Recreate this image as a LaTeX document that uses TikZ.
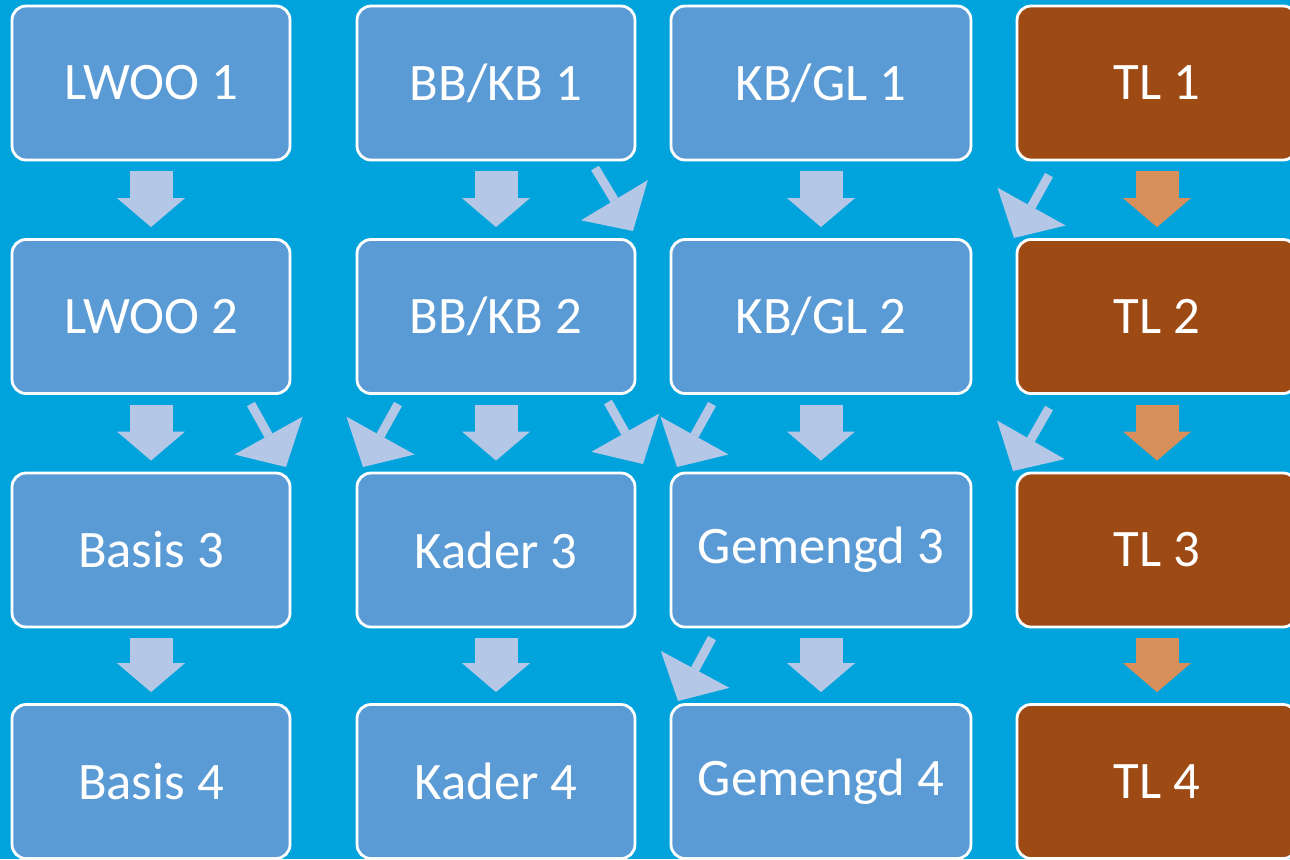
\documentclass[tikz,border=0pt]{standalone}
\usepackage{fontspec}
\setmainfont{Carlito}
\usetikzlibrary{arrows.meta}
\definecolor{bgblue}{HTML}{00A3DB}
\definecolor{boxblue}{HTML}{5B9BD5}
\definecolor{boxbrown}{HTML}{9E4A14}
\definecolor{arrowblue}{HTML}{B4C7E7}
\definecolor{arroworange}{HTML}{D98F5A}
\tikzset{
    level/.style={
        draw=white,
        line width=0.8pt,
        rounded corners=0.14cm,
        fill=boxblue,
        text=white,
        font=\fontsize{15}{18}\selectfont,
        minimum width=2.78cm,
        minimum height=1.54cm},
    widelevel/.style={level, minimum width=3.0cm},
    tllevel/.style={level, fill=boxbrown, minimum width=2.8cm},
    down/.style={
        draw=arrowblue,
        line width=0.43cm,
        -{Triangle[width=0.68cm,length=0.29cm,line width=0pt]},
        shorten <=0.1cm,
        shorten >=0.11cm},
    downtl/.style={down, draw=arroworange},
    diag/.style={
        draw=arrowblue,
        line width=0.09cm,
        -{Triangle[width=0.78cm,length=0.36cm,line width=0pt]}}}

\begin{document}
\begin{tikzpicture}
        \useasboundingbox (0,0) rectangle (12.9,-8.59);
        \fill[bgblue] (0,0) rectangle (12.9,-8.59);

        % column LWOO / Basis
        \node[level] (lwoo1) at (1.51,-0.83) {LWOO 1};
        \node[level] (lwoo2) at (1.51,-3.165) {LWOO 2};
        \node[level] (basis3) at (1.51,-5.50) {Basis 3};
        \node[level] (basis4) at (1.51,-7.815) {Basis 4};

        % column BB/KB / Kader
        \node[level] (bbkb1) at (4.96,-0.83) {BB/KB 1};
        \node[level] (bbkb2) at (4.96,-3.165) {BB/KB 2};
        \node[level] (kader3) at (4.96,-5.50) {Kader 3};
        \node[level] (kader4) at (4.96,-7.815) {Kader 4};

        % column KB/GL / Gemengd
        \node[widelevel] (kbgl1) at (8.21,-0.83) {KB/GL 1};
        \node[widelevel] (kbgl2) at (8.21,-3.165) {KB/GL 2};
        \node[widelevel] (gemengd3) at (8.21,-5.50) {Gemengd 3};
        \node[widelevel] (gemengd4) at (8.21,-7.815) {Gemengd 4};

        % column TL
        \node[tllevel] (tl1) at (11.57,-0.83) {TL 1};
        \node[tllevel] (tl2) at (11.57,-3.165) {TL 2};
        \node[tllevel] (tl3) at (11.57,-5.50) {TL 3};
        \node[tllevel] (tl4) at (11.57,-7.815) {TL 4};

        % straight down
        \draw[down] (lwoo1) -- (lwoo2);
        \draw[down] (lwoo2) -- (basis3);
        \draw[down] (basis3) -- (basis4);
        \draw[down] (bbkb1) -- (bbkb2);
        \draw[down] (bbkb2) -- (kader3);
        \draw[down] (kader3) -- (kader4);
        \draw[down] (kbgl1) -- (kbgl2);
        \draw[down] (kbgl2) -- (gemengd3);
        \draw[down] (gemengd3) -- (gemengd4);
        \draw[downtl] (tl1) -- (tl2);
        \draw[downtl] (tl2) -- (tl3);
        \draw[downtl] (tl3) -- (tl4);

        % sideways
        \coordinate (bbkb1out) at (5.95,-1.68);
        \coordinate (kbgl2in) at (6.33,-2.31);
        \coordinate (tl1out) at (10.49,-1.75);
        \coordinate (kbgl2in2) at (10.14,-2.38);
        \coordinate (lwoo2out) at (2.51,-4.04);
        \coordinate (kader3in) at (2.86,-4.67);
        \coordinate (bbkb2out) at (3.98,-4.04);
        \coordinate (basis3in) at (3.63,-4.67);
        \coordinate (bbkb2out2) at (6.08,-4.02);
        \coordinate (gemengd3in) at (6.43,-4.64);
        \coordinate (kbgl2out) at (7.12,-4.04);
        \coordinate (kader3in2) at (6.77,-4.67);
        \coordinate (tl2out) at (10.49,-4.08);
        \coordinate (gemengd3in2) at (10.13,-4.71);
        \coordinate (gemengd3out) at (7.12,-6.38);
        \coordinate (kader4in) at (6.78,-7.01);

        \draw[diag] (bbkb1out) -- (kbgl2in);
        \draw[diag] (tl1out) -- (kbgl2in2);
        \draw[diag] (lwoo2out) -- (kader3in);
        \draw[diag] (bbkb2out) -- (basis3in);
        \draw[diag] (bbkb2out2) -- (gemengd3in);
        \draw[diag] (kbgl2out) -- (kader3in2);
        \draw[diag] (tl2out) -- (gemengd3in2);
        \draw[diag] (gemengd3out) -- (kader4in);
    \end{tikzpicture}
\end{document}
